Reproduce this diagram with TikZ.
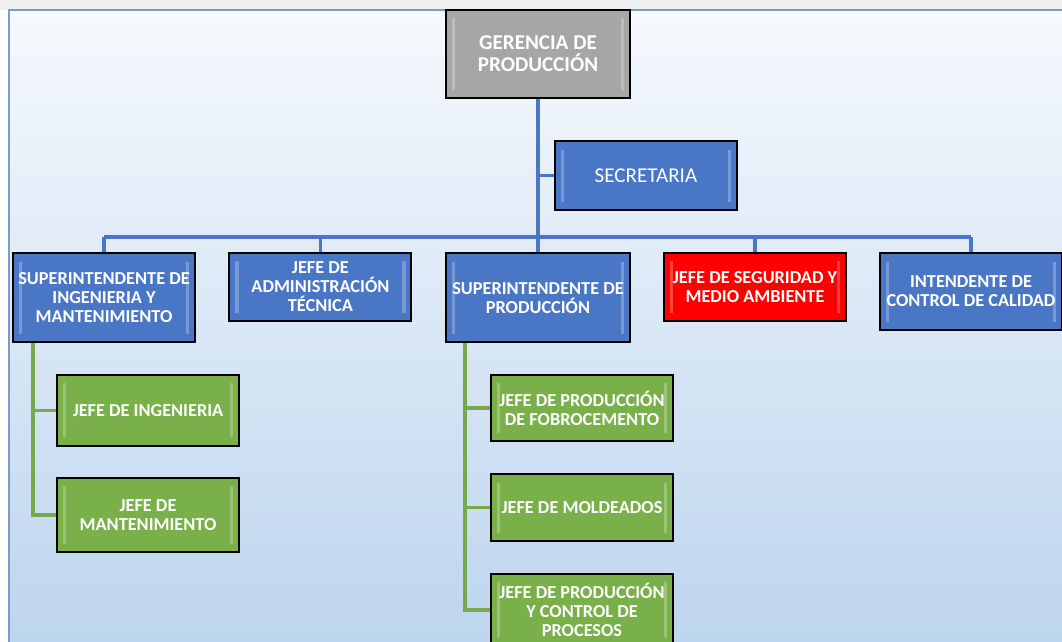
\documentclass[tikz,border=0pt]{standalone}
\usepackage{fontspec}
\setmainfont{Carlito}
\usepackage{xcolor}
\usepackage{tikz}
\usetikzlibrary{positioning, calc}

\definecolor{boxblue}{HTML}{4A76C6}
\definecolor{boxgray}{HTML}{A6A6A6}
\definecolor{boxred}{HTML}{FE0000}
\definecolor{boxgreen}{HTML}{79B04A}
\definecolor{lineblue}{HTML}{4A76C6}
\definecolor{linegreen}{HTML}{77A84A}
\definecolor{framecol}{HTML}{7A9CC6}
\definecolor{bgtop}{HTML}{F6F9FD}
\definecolor{bgbot}{HTML}{BDD5EE}
\definecolor{pagegray}{HTML}{EFEFEF}

\begin{document}
\begin{tikzpicture}[
        orgbox/.style={rectangle, draw=black, line width=1.4pt, text=white, inner sep=0pt,
        minimum width=4.55cm, align=center, font=\fontsize{13}{13.5}\selectfont\bfseries,
        path picture={
            \fill[white, opacity=0.25] ([xshift=4pt,yshift=-6pt]path picture bounding box.north west)
                rectangle ([xshift=6.5pt,yshift=6pt]path picture bounding box.south west);
            \fill[white, opacity=0.25] ([xshift=-4pt,yshift=-6pt]path picture bounding box.north east)
                rectangle ([xshift=-6.5pt,yshift=6pt]path picture bounding box.south east);
        }},
        bluebox/.style={orgbox, fill=boxblue},
        redbox/.style={orgbox, fill=boxred},
        graybox/.style={orgbox, fill=boxgray, minimum width=4.6cm, font=\fontsize{15}{15.5}\selectfont\bfseries},
        greenbox/.style={orgbox, fill=boxgreen},
        bline/.style={lineblue, line width=2.2pt},
        gline/.style={linegreen, line width=2.2pt}
    ]
    \useasboundingbox (0,0) rectangle (26.55,-16.05);
    \clip (0,0) rectangle (26.55,-16.05);

    % Background and frame
    \fill[pagegray] (0,0) rectangle (26.55,-0.25);
    \fill[white] (0,-0.25) rectangle (0.225,-16.05);
    \shade[top color=bgtop, bottom color=bgbot] (0.225,-0.25) rectangle (26.55,-16.05);
    \draw[framecol, line width=1.5pt] (0.225,-16.05) -- (0.225,-0.25) -- (26.55,-0.25);

    % Top of the chart
    \node[graybox, minimum height=2.2cm]  (ger) at (13.45,-1.35)  {GERENCIA DE\\PRODUCCIÓN};
    \node[bluebox, minimum height=1.725cm, font=\fontsize{15}{15.5}\selectfont] (sec) at (16.15,-4.39) {SECRETARIA};

    % Second level
    \node[bluebox, minimum height=2.225cm] (supi) at (2.6,-7.44)    {SUPERINTENDENTE DE\\INGENIERIA Y\\MANTENIMIENTO};
    \node[bluebox, minimum height=1.7cm]   (adm)  at (8.01,-7.175)  {JEFE DE\\ADMINISTRACIÓN\\TÉCNICA};
    \node[bluebox, minimum height=2.225cm, minimum width=4.6cm] (supp) at (13.45,-7.44) {SUPERINTENDENTE DE\\PRODUCCIÓN};
    \node[redbox,  minimum height=1.7cm]   (seg)  at (18.875,-7.175) {JEFE DE SEGURIDAD Y\\MEDIO AMBIENTE};
    \node[bluebox, minimum height=1.925cm] (cal)  at (24.275,-7.29)  {INTENDENTE DE\\CONTROL DE CALIDAD};

    % Third level
    \node[greenbox, minimum height=1.775cm] (ing)  at (3.7,-10.26)   {JEFE DE INGENIERIA};
    \node[greenbox, minimum height=1.85cm]  (mant) at (3.7,-12.875)  {JEFE DE\\MANTENIMIENTO};
    \node[greenbox, minimum height=1.65cm]  (fib)  at (14.55,-10.2)  {JEFE DE PRODUCCIÓN\\DE FOBROCEMENTO};
    \node[greenbox, minimum height=1.675cm] (mold) at (14.55,-12.69) {JEFE DE MOLDEADOS};
    \node[greenbox, minimum height=1.8cm]   (proc) at (14.55,-15.25) {JEFE DE PRODUCCIÓN\\Y CONTROL DE\\PROCESOS};

    % Blue connectors
    \coordinate (bus) at (13.45,-5.925);
    \draw[bline] (ger.south) -- (bus);
    \draw[bline] (ger.south |- sec.west) -- (sec.west);
    \draw[bline] (bus -| supi) -- (bus -| cal);
    \foreach \n in {supi, adm, supp, seg, cal}
        \draw[bline] (bus -| \n) -- (\n.north);

    % Green connectors
    \coordinate (ltrunk) at (0.825,0);
    \coordinate (rtrunk) at (11.625,0);
    \draw[gline] (ltrunk |- supi.south) |- (mant.west);
    \draw[gline] (ltrunk |- ing.west) -- (ing.west);
    \draw[gline] (rtrunk |- supp.south) |- (proc.west);
    \draw[gline] (rtrunk |- fib.west) -- (fib.west);
    \draw[gline] (rtrunk |- mold.west) -- (mold.west);

\end{tikzpicture}
\end{document}
